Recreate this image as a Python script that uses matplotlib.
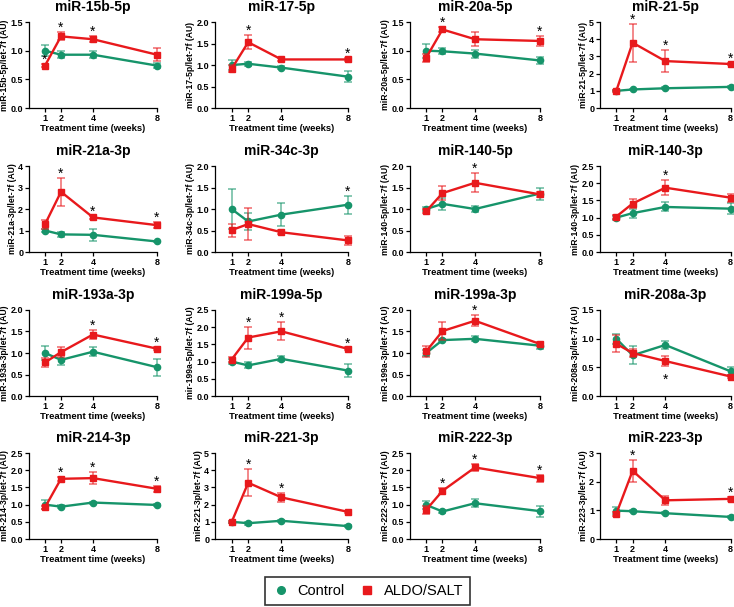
import numpy as np
import matplotlib
matplotlib.use("Agg")
import matplotlib.pyplot as plt
from matplotlib.lines import Line2D

plt.rcParams['font.family'] = ['Liberation Sans', 'DejaVu Sans']

weeks = [1, 2, 4, 8]

names = ['miR-15b-5p', 'miR-17-5p', 'miR-20a-5p', 'miR-21-5p',
         'miR-21a-3p', 'miR-34c-3p', 'miR-140-5p', 'miR-140-3p',
         'miR-193a-3p', 'miR-199a-5p', 'miR-199a-3p', 'miR-208a-3p',
         'miR-214-3p', 'miR-221-3p', 'miR-222-3p', 'miR-223-3p']

ylabels = [n + '/let-7f (AU)' for n in names]
ylabels[9] = 'mir-199a-5p/let-7f (AU)'

# y axis top and tick step for each panel
ytop = [1.5, 2.0, 1.5, 5, 4, 2.0, 2.0, 2.5, 2.0, 2.5, 2.0, 1.5, 2.5, 5, 2.5, 3]
ystep = [0.5, 0.5, 0.5, 1, 1, 0.5, 0.5, 0.5, 0.5, 0.5, 0.5, 0.5, 0.5, 1, 0.5, 1]

# means and SEM, control
ctrl = [[1.0, 0.93, 0.93, 0.74], [1.0, 1.03, 0.94, 0.73], [1.0, 0.99, 0.95, 0.83], [1.0, 1.08, 1.15, 1.23],
        [1.0, 0.82, 0.80, 0.49], [1.0, 0.71, 0.87, 1.10], [1.0, 1.12, 1.0, 1.36], [1.0, 1.13, 1.31, 1.26],
        [1.0, 0.84, 1.03, 0.67], [1.0, 0.89, 1.08, 0.74], [1.0, 1.30, 1.33, 1.17], [1.0, 0.71, 0.89, 0.43],
        [1.0, 0.94, 1.06, 0.99], [1.0, 0.92, 1.06, 0.75], [0.99, 0.80, 1.04, 0.81], [0.99, 0.97, 0.90, 0.77]]
ctrl_err = [[0.10, 0.06, 0.06, 0.05], [0.12, 0.05, 0.04, 0.12], [0.12, 0.05, 0.07, 0.06], [0.03, 0.05, 0.06, 0.07],
            [0.06, 0.10, 0.27, 0.04], [0.47, 0.20, 0.26, 0.21], [0.05, 0.14, 0.08, 0.14], [0.06, 0.13, 0.13, 0.16],
            [0.16, 0.12, 0.10, 0.20], [0.08, 0.09, 0.07, 0.19], [0.07, 0.03, 0.06, 0.07], [0.09, 0.16, 0.07, 0.07],
            [0.13, 0.04, 0.03, 0.03], [0.05, 0.08, 0.05, 0.05], [0.12, 0.03, 0.12, 0.16], [0.12, 0.04, 0.04, 0.05]]

# means and SEM, ALDO/SALT
aldo = [[0.74, 1.25, 1.20, 0.93], [0.91, 1.53, 1.13, 1.13], [0.88, 1.37, 1.20, 1.17], [1.0, 3.80, 2.73, 2.56],
        [1.29, 2.80, 1.61, 1.25], [0.51, 0.65, 0.46, 0.27], [0.95, 1.37, 1.61, 1.34], [1.03, 1.41, 1.87, 1.58],
        [0.78, 1.02, 1.43, 1.10], [1.06, 1.70, 1.88, 1.37], [1.04, 1.51, 1.75, 1.21], [0.91, 0.75, 0.61, 0.34],
        [0.92, 1.75, 1.77, 1.46], [0.98, 3.27, 2.42, 1.58], [0.85, 1.40, 2.08, 1.77], [0.88, 2.38, 1.35, 1.40]]
aldo_err = [[0.03, 0.07, 0.05, 0.11], [0.08, 0.16, 0.04, 0.03], [0.07, 0.05, 0.12, 0.08], [0.05, 1.10, 0.63, 0.08],
            [0.22, 0.66, 0.07, 0.14], [0.15, 0.38, 0.05, 0.10], [0.05, 0.16, 0.22, 0.05], [0.06, 0.14, 0.22, 0.12],
            [0.10, 0.12, 0.11, 0.03], [0.06, 0.32, 0.26, 0.04], [0.13, 0.20, 0.13, 0.05], [0.15, 0.07, 0.08, 0.03],
            [0.05, 0.05, 0.18, 0.08], [0.05, 0.78, 0.25, 0.05], [0.12, 0.08, 0.10, 0.10], [0.06, 0.38, 0.15, 0.06]]

# weeks with significant difference
stars = [[1, 2, 4], [2, 8], [2, 8], [2, 4, 8],
         [2, 4, 8], [8], [4], [4],
         [4, 8], [2, 4, 8], [4], [4],
         [2, 4, 8], [2, 4], [2, 4, 8], [2, 8]]
# stars placed just above the ALDO point, or below it
star_above_aldo = {(0, 1)}
star_below = {(11, 4)}

green = '#16946a'
red = '#e8191c'

fig = plt.figure(figsize=(7.34, 6.07), dpi=100)

lefts = [0.0395, 0.2929, 0.5586, 0.8174]
widths = [0.1744, 0.181, 0.177, 0.178]
bottoms = [0.822, 0.5848, 0.3476, 0.112]
h = 0.1417

for i, name in enumerate(names):
    r, c = divmod(i, 4)
    ax = fig.add_axes([lefts[c], bottoms[r], widths[c], h])
    ax.errorbar(weeks, ctrl[i], yerr=ctrl_err[i], color=green, marker='o', ms=4.5,
                lw=1.7, elinewidth=1.2, ecolor=green + '99', capsize=3, capthick=1.2,
                clip_on=False, zorder=3)
    ax.errorbar(weeks, aldo[i], yerr=aldo_err[i], color=red, marker='s', ms=4.5,
                lw=1.7, elinewidth=1.2, ecolor=red + '99', capsize=3, capthick=1.2,
                clip_on=False, zorder=4)
    for w in stars[i]:
        k = weeks.index(w)
        if (i, w) in star_below:
            y = aldo[i][k] - aldo_err[i][k]
            ax.annotate('*', (w, y), xytext=(0, -10), textcoords='offset points',
                        ha='center', va='center', fontsize=10, annotation_clip=False)
            continue
        if (i, w) in star_above_aldo:
            y = aldo[i][k] + aldo_err[i][k]
        else:
            y = max(aldo[i][k] + aldo_err[i][k], ctrl[i][k] + ctrl_err[i][k])
        ax.annotate('*', (w, y), xytext=(0, 3), textcoords='offset points',
                    ha='center', va='center', fontsize=10, annotation_clip=False)

    ax.set_xlim(0, 8)
    ax.set_ylim(0, ytop[i])
    ax.set_xticks(weeks)
    ax.set_yticks(np.arange(0, ytop[i] + 1e-9, ystep[i]))
    if ystep[i] < 1:
        ax.set_yticklabels([f'{v:.1f}' for v in ax.get_yticks()])
    ax.tick_params(labelsize=6.5, length=3, width=0.9, pad=1.2)
    for lab in ax.get_xticklabels() + ax.get_yticklabels():
        lab.set_fontweight('bold')
    for s in ['top', 'right']:
        ax.spines[s].set_visible(False)
    for s in ['left', 'bottom']:
        ax.spines[s].set_linewidth(0.9)
    ax.set_title(name, fontsize=10, fontweight='bold', pad=8)
    ax.set_xlabel('Treatment time (weeks)', fontsize=6.8, fontweight='bold', labelpad=1)
    ax.set_ylabel(ylabels[i], fontsize=6.2, fontweight='bold', labelpad=0.8)

handles = [Line2D([], [], color=green, marker='o', ls='none', ms=5.5, label='Control'),
           Line2D([], [], color=red, marker='s', ls='none', ms=5.5, label='ALDO/SALT')]
leg = fig.legend(handles=handles, loc='center', bbox_to_anchor=(0.5007, 0.0264), ncol=2,
                 fontsize=10.5, frameon=True, fancybox=False, edgecolor='black',
                 handletextpad=0.5, columnspacing=1.0, handlelength=1.2, borderpad=0.45)
leg.get_frame().set_linewidth(1.2)

fig.savefig('out.png', dpi=100)
